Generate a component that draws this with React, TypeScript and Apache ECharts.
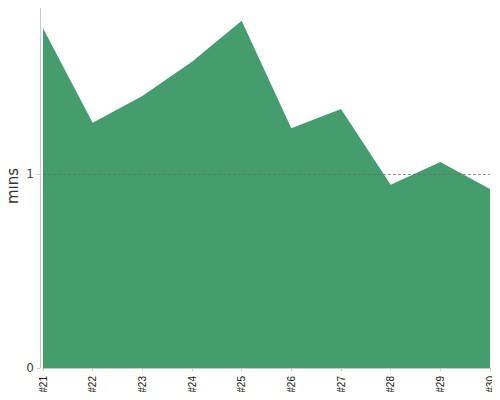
import * as echarts from 'echarts';
import React, { useEffect, useRef } from 'react';

// 빌드 번호
const builds = ['#21', '#22', '#23', '#24', '#25', '#26', '#27', '#28', '#29', '#30'];
// 빌드 시간 (분)
const minutes = [1.755, 1.267, 1.405, 1.582, 1.793, 1.238, 1.338, 0.946, 1.064, 0.924];
// y축 눈금
const yTicks = [0, 1];
const referenceLine = 1;

export default function App() {
  const chartRef = useRef<HTMLDivElement>(null);

  useEffect(() => {
    if (!chartRef.current) return;
    const chart = echarts.init(chartRef.current, null, { renderer: 'svg' });

    const font = '"DejaVu Sans", sans-serif';

    chart.setOption({
      animation: false,
      grid: { left: 43, right: 10, top: 4, bottom: 32, containLabel: false, outerBoundsMode: 'none' },
      xAxis: {
        type: 'category',
        data: builds,
        boundaryGap: false,
        offset: 4,
        axisLine: { lineStyle: { color: '#c8c8c8', width: 1 } },
        axisTick: { alignWithLabel: true, length: 3, lineStyle: { color: '#c8c8c8' } },
        axisLabel: {
          rotate: 90,
          interval: 0,
          fontSize: 10,
          color: '#111',
          fontFamily: '"Liberation Sans", Arial, sans-serif',
          margin: 4,
        },
        splitLine: { show: false },
      },
      yAxis: {
        type: 'value',
        min: 0,
        max: 1.88,
        offset: 3,
        name: 'mins',
        nameLocation: 'middle',
        nameGap: 20,
        nameRotate: 90,
        nameMoveOverlap: false,
        nameTextStyle: { fontSize: 15, color: '#333', fontFamily: font },
        axisLine: { show: true, lineStyle: { color: '#c8c8c8', width: 1 } },
        axisTick: { show: true, length: 3, customValues: yTicks, lineStyle: { color: '#c8c8c8' } },
        axisLabel: { fontSize: 12, color: '#444', fontFamily: font, margin: 6, customValues: yTicks },
        splitLine: { show: false },
      },
      series: [
        {
          type: 'line',
          data: minutes,
          symbol: 'none',
          lineStyle: { width: 0 },
          areaStyle: { color: '#459c6c', opacity: 1 },
          markLine: {
            silent: true,
            symbol: 'none',
            label: { show: false },
            lineStyle: { color: '#666', type: [3, 2], width: 1, opacity: 0.7 },
            data: [{ yAxis: referenceLine }],
          },
        },
      ],
    });

    return () => {
      chart.dispose();
    };
  }, []);

  return <div ref={chartRef} style={{ width: 500, height: 400, margin: -8 }} />;
}
